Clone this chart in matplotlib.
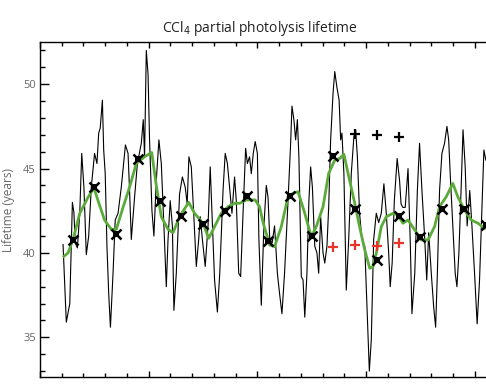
import matplotlib
matplotlib.use("Agg")
import matplotlib.pyplot as plt
from matplotlib.ticker import MultipleLocator

# monthly-ish lifetime trace (years since start, lifetime in years)
t_raw = [1.06, 1.21, 1.37, 1.49, 1.56, 1.62, 1.72, 1.83, 1.92, 2.02, 2.13, 2.24, 2.36, 2.51,
         2.62, 2.70, 2.77, 2.87, 2.93, 3.00, 3.08, 3.16, 3.24, 3.36, 3.46, 3.59, 3.74, 3.93,
         4.05, 4.12, 4.20, 4.35, 4.48, 4.66, 4.75, 4.81, 4.89, 4.97, 5.04, 5.15, 5.24, 5.35,
         5.47, 5.58, 5.70, 5.81, 5.89, 5.99, 6.09, 6.16, 6.27, 6.42, 6.55, 6.68, 6.77, 6.85,
         6.96, 7.07, 7.19, 7.30, 7.37, 7.47, 7.60, 7.73, 7.83, 7.93, 8.03, 8.16, 8.27, 8.42,
         8.52, 8.62, 8.72, 8.83, 8.95, 9.03, 9.14, 9.23, 9.34, 9.46, 9.54, 9.64, 9.72, 9.81,
         9.90, 10.00, 10.07, 10.18, 10.30, 10.41, 10.49, 10.57, 10.68, 10.79, 10.92, 11.02,
         11.13, 11.25, 11.41, 11.53, 11.59, 11.68, 11.76, 11.84, 11.91, 11.97, 12.02, 12.10,
         12.18, 12.28, 12.37, 12.45, 12.53, 12.64, 12.74, 12.82, 12.91, 13.02, 13.10, 13.20,
         13.28, 13.37, 13.48, 13.56, 13.66, 13.76, 13.83, 13.89, 13.98, 14.09, 14.20, 14.32,
         14.44, 14.52, 14.60, 14.70, 14.81, 14.94, 15.04, 15.15, 15.24, 15.35, 15.47, 15.58,
         15.70, 15.82, 15.93, 16.04, 16.11, 16.20, 16.30, 16.43, 16.54, 16.61, 16.69, 16.80,
         16.93, 17.03, 17.11, 17.24, 17.36, 17.46, 17.57, 17.70, 17.79, 17.88, 18.00, 18.11,
         18.20, 18.28, 18.38, 18.49, 18.61, 18.72, 18.80, 18.87, 18.99, 19.10, 19.18, 19.27,
         19.38, 19.46, 19.56, 19.65, 19.77, 19.87, 19.99, 20.11, 20.22, 20.33, 20.42, 20.51]
life_raw = [40.5, 35.9, 37.0, 43.0, 42.4, 40.6, 40.3, 42.4, 45.9, 43.9, 39.9, 41.0, 43.9, 45.9,
            45.3, 47.1, 47.4, 49.05, 46.1, 44.7, 40.4, 37.6, 35.6, 38.8, 41.95, 42.35, 43.9, 46.4,
            45.9, 43.7, 40.8, 43.3, 45.3, 46.5, 47.9, 45.7, 52.0, 50.6, 46.7, 42.5, 41.0, 44.3,
            46.7, 45.3, 41.6, 38.0, 40.8, 43.1, 41.6, 36.6, 38.8, 43.5, 44.5, 43.9, 42.9, 45.7,
            45.1, 42.35, 39.2, 40.8, 42.15, 40.8, 39.2, 41.6, 45.1, 41.8, 38.4, 36.5, 38.8, 43.7,
            45.9, 45.3, 43.9, 42.35, 44.5, 43.1, 38.8, 38.6, 42.35, 46.2, 45.3, 45.7, 44.7, 45.9,
            46.6, 45.9, 40.8, 36.9, 41.6, 44.0, 43.3, 40.8, 40.6, 41.6, 38.8, 37.6,
            36.4, 38.8, 43.1, 46.5, 48.7, 47.9, 46.7, 47.9, 45.7, 41.95, 38.6, 38.4,
            36.2, 38.8, 43.1, 45.1, 43.9, 40.4, 40.0, 38.8, 42.15, 40.0, 39.4, 40.4,
            42.7, 46.7, 49.45, 50.75, 49.8, 49.05, 46.7, 47.1, 44.7, 37.8, 40.8, 44.7,
            46.9, 47.3, 45.7, 42.35, 40.8, 40.4, 36.8, 33.0, 34.85, 40.8, 42.35, 41.8,
            42.35, 44.1, 42.35, 40.0, 38.0, 39.4, 43.1, 45.6, 44.3, 42.9, 42.7, 42.7,
            45.0, 40.8, 36.4, 38.8, 43.7, 46.5, 43.7, 40.8, 38.4, 41.2, 38.8, 36.8,
            35.6, 38.8, 43.7, 45.9, 46.5, 47.5, 46.7, 44.7, 41.6, 38.8, 38.0, 40.0,
            44.1, 47.3, 45.1, 41.6, 43.7, 41.6, 38.8, 35.8, 38.4, 42.7, 46.1, 45.5]

# smoothed curve
t_smooth = [1.10, 1.29, 1.52, 1.83, 2.21, 2.48, 2.67, 2.97, 3.28, 3.51, 3.82, 4.12, 4.43, 4.81,
            5.00, 5.14, 5.35, 5.58, 5.89, 6.12, 6.42, 6.84, 7.11, 7.50, 7.76, 8.03, 8.34, 8.65,
            8.95, 9.18, 9.49, 9.90, 10.10, 10.26, 10.57, 10.79, 11.10, 11.41, 11.64, 11.87,
            12.18, 12.48, 12.71, 13.02, 13.28, 13.56, 13.79, 13.98, 14.17, 14.48, 14.70, 14.94,
            15.17, 15.32, 15.47, 15.70, 15.93, 16.24, 16.47, 16.69, 16.93, 17.24, 17.54, 17.85,
            18.15, 18.38, 18.69, 18.99, 19.22, 19.53, 19.84, 20.15, 20.45]
life_smooth = [39.8, 40.0, 40.8, 42.35, 43.3, 43.85, 43.1, 41.95, 41.4, 41.4, 42.7, 43.9, 45.3, 45.7,
               45.85, 45.95, 44.0, 42.15, 41.4, 41.2, 42.15, 43.0, 42.35, 41.76, 40.87, 41.56, 42.35, 42.74,
               42.94, 42.94, 43.14, 43.14, 42.74, 41.8, 40.47, 40.37, 41.56, 43.33, 43.53, 43.63,
               42.35, 40.96, 41.56, 42.74, 44.72, 45.5, 45.6, 45.85, 44.72, 42.94, 41.56, 40.18,
               39.09, 39.2, 39.98, 41.56, 42.15, 42.35, 42.25, 41.76, 41.95, 41.36, 40.77, 40.77,
               41.56, 42.74, 43.33, 44.12, 43.33, 42.54, 41.95, 41.76, 41.46]

# annual means
t_annual = [1.5, 2.5, 3.5, 4.5, 5.5, 6.5, 7.5, 8.5, 9.5, 10.5,
            11.5, 12.5, 13.5, 14.5, 15.5, 16.5, 17.5, 18.5, 19.5, 20.5]
life_annual = [40.77, 43.89, 41.12, 45.58, 43.08, 42.21, 41.73, 42.47, 43.39, 40.73,
               43.37, 41.01, 45.74, 42.59, 39.56, 42.19, 40.96, 42.60, 42.60, 41.66]

t_black_plus = [14.5, 15.5, 16.5]
life_black_plus = [47.02, 46.98, 46.85]
t_red_plus = [13.5, 14.5, 15.5, 16.5]
life_red_plus = [40.34, 40.47, 40.41, 40.6]

GREEN = "#5aab3a"
RED = "#e8342b"
GREY = "#666666"

fig = plt.figure(figsize=(4.86, 3.89), dpi=100)
ax = fig.add_axes([40/486, 12/389, 456.5/486, 335/389])

ax.plot(t_raw, life_raw, color="black", lw=0.8, zorder=2)
ax.plot(t_smooth, life_smooth, color=GREEN, lw=2.0, zorder=3)
# annual means: boxy x symbols
ax.plot(t_annual, life_annual, ls="none", marker="s", ms=5, color="black", mew=0, zorder=4)
ax.plot(t_annual, life_annual, ls="none", marker="x", ms=7, mew=1.8, color="black", zorder=4)
ax.plot(t_black_plus, life_black_plus, ls="none", marker="+", ms=7, mew=1.6, color="black", zorder=4)
ax.plot(t_red_plus, life_red_plus, ls="none", marker="+", ms=7, mew=1.6, color=RED, zorder=4)

ax.set_xlim(0, 21)
ax.set_ylim(32.65, 52.5)
ax.xaxis.set_major_locator(MultipleLocator(5))
ax.xaxis.set_minor_locator(MultipleLocator(1))
ax.yaxis.set_major_locator(MultipleLocator(5))
ax.yaxis.set_minor_locator(MultipleLocator(1))
ax.tick_params(axis="x", which="both", direction="in", top=True, labelbottom=False)
ax.tick_params(axis="x", which="major", length=4.5, width=1)
ax.tick_params(axis="x", which="minor", length=3, width=1)
ax.tick_params(axis="y", which="major", length=6.5, width=1, direction="in",
               labelsize=8, labelcolor=GREY, pad=3)
ax.tick_params(axis="y", which="minor", length=3.5, width=1, direction="in")
for lab in ax.get_yticklabels():
    lab.set_fontfamily("Open Sans")
for s in ax.spines.values():
    s.set_linewidth(1.0)

ax.set_ylabel("Lifetime (years)", fontsize=8.5, color=GREY, fontfamily="Open Sans", labelpad=6)

fig.text(260/486, 1 - 28/389, "CCl$_4$ partial photolysis lifetime", ha="center", va="center",
         fontsize=10, color="#222222", fontfamily="Open Sans")

fig.savefig("out.png", dpi=100)
